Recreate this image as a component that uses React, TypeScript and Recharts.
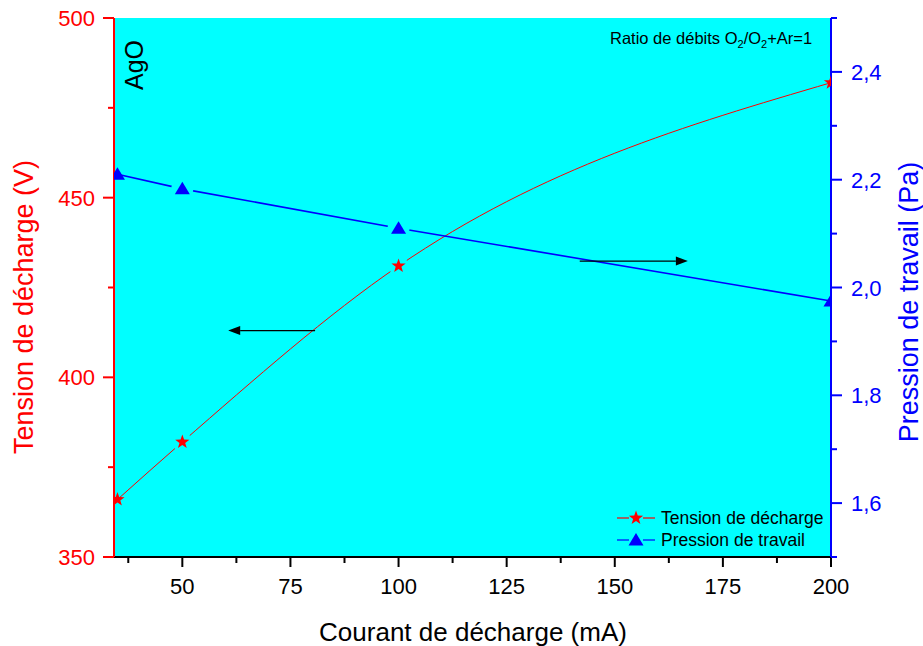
import React from 'react';
import { ComposedChart, Line, XAxis, YAxis, CartesianGrid, ReferenceLine } from 'recharts';

// mesures (courant en mA)
const courant = [35, 50, 100, 200];
const tension = [366, 382, 431, 482];
const pression = [2.21, 2.183, 2.11, 1.975];

const xTicks = [37.5, 50, 62.5, 75, 87.5, 100, 112.5, 125, 137.5, 150, 162.5, 175, 187.5, 200];
const xMajor = [50, 75, 100, 125, 150, 175, 200];
const leftTicks = [350, 375, 400, 425, 450, 475, 500];
const leftMajor = [350, 400, 450, 500];
const rightTicks = [1.5, 1.6, 1.7, 1.8, 1.9, 2.0, 2.1, 2.2, 2.3, 2.4, 2.5];
const rightMajor = [1.6, 1.8, 2.0, 2.2, 2.4];

// fleches : [x debut, x fin, y]
const arrowLeft = [80.7, 60.6, 413];
const arrowRight = [141.9, 166.9, 2.049];

const data = courant.map((c, i) => ({ courant: c, tension: tension[i], pression: pression[i] }));

const FONT = '"Liberation Sans", Arial, sans-serif';
const RED = '#FF0000';
const BLUE = '#0000FF';
const CYAN = '#00FFFF';
const TS = 10; // tickSize
const TM = 4; // tickMargin

const isMajor = (list: number[], v: number) => list.some(m => Math.abs(m - v) < 1e-6);
const fmtComma = (v: number) => v.toFixed(1).replace('.', ',');

const BottomTick = (props: any) => {
  const { x, y, payload } = props;
  const axisY = y - TS - TM;
  const major = isMajor(xMajor, payload.value);
  return (
    <g>
      <line x1={x} x2={x} y1={axisY} y2={axisY + (major ? 10 : 6)} stroke="#000" strokeWidth={2} />
      {major && (
        <text x={x} y={axisY + 37} textAnchor="middle" fontSize={22} fontFamily={FONT} fill="#000">
          {payload.value}
        </text>
      )}
    </g>
  );
};

const LeftTick = (props: any) => {
  const { x, y, payload } = props;
  const axisX = x + TS + TM;
  const major = isMajor(leftMajor, payload.value);
  return (
    <g>
      <line x1={axisX} x2={axisX - (major ? 11 : 6)} y1={y} y2={y} stroke={RED} strokeWidth={2} />
      {major && (
        <text x={axisX - 19} y={y + 8} textAnchor="end" fontSize={22} fontFamily={FONT} fill={RED}>
          {payload.value}
        </text>
      )}
    </g>
  );
};

const RightTick = (props: any) => {
  const { x, y, payload } = props;
  const axisX = x - TS - TM;
  const major = isMajor(rightMajor, payload.value);
  return (
    <g>
      <line x1={axisX} x2={axisX + (major ? 11 : 6)} y1={y} y2={y} stroke={BLUE} strokeWidth={2} />
      {major && (
        <text x={axisX + 20} y={y + 8} textAnchor="start" fontSize={22} fontFamily={FONT} fill={BLUE}>
          {fmtComma(payload.value)}
        </text>
      )}
    </g>
  );
};

const starPoints = (cx: number, cy: number, ro: number, ri: number) => {
  const pts: string[] = [];
  for (let i = 0; i < 10; i++) {
    const r = i % 2 === 0 ? ro : ri;
    const a = -Math.PI / 2 + (i * Math.PI) / 5;
    pts.push(`${cx + r * Math.cos(a)},${cy + r * Math.sin(a)}`);
  }
  return pts.join(' ');
};

const triPoints = (cx: number, cy: number) =>
  `${cx},${cy - 7} ${cx + 7.5},${cy + 5.5} ${cx - 7.5},${cy + 5.5}`;

const StarDot = (props: any) => {
  const { cx, cy, index } = props;
  const inner = index > 0 && index < courant.length - 1;
  return (
    <g key={`star-${index}`}>
      {inner && <circle cx={cx} cy={cy} r={10} fill={CYAN} />}
      <polygon points={starPoints(cx, cy, 7.5, 3)} fill={RED} />
    </g>
  );
};

const TriDot = (props: any) => {
  const { cx, cy, index } = props;
  const inner = index > 0 && index < courant.length - 1;
  return (
    <g key={`tri-${index}`}>
      {inner && <circle cx={cx} cy={cy} r={11} fill={CYAN} />}
      <polygon points={triPoints(cx, cy)} fill={BLUE} />
    </g>
  );
};

const Arrow = (props: any) => {
  const { x1, y1, x2, y2 } = props;
  const dir = Math.sign(x2 - x1);
  const bx = x2 - dir * 12;
  return (
    <g>
      <line x1={x1} y1={y1} x2={bx} y2={y2} stroke="#000" strokeWidth={1.3} />
      <polygon points={`${x2},${y2} ${bx},${y2 - 4.5} ${bx},${y2 + 4.5}`} fill="#000" />
    </g>
  );
};

const LegendRow = ({ color, label, tri }: { color: string; label: string; tri?: boolean }) => (
  <div style={{ display: 'flex', alignItems: 'center', height: 22 }}>
    <svg width={44} height={22}>
      <line x1={0} x2={12} y1={11} y2={11} stroke={color} strokeWidth={1.2} />
      <line x1={26} x2={38} y1={11} y2={11} stroke={color} strokeWidth={1.2} />
      {tri ? <polygon points={triPoints(19, 11)} fill={color} /> : <polygon points={starPoints(19, 11, 7.5, 3)} fill={color} />}
    </svg>
    <span style={{ fontFamily: FONT, fontSize: 17.5, color: '#000', whiteSpace: 'nowrap' }}>{label}</span>
  </div>
);

export default function App() {
  return (
    <div style={{ position: 'absolute', left: 0, top: 0, width: 923, height: 646, background: '#fff' }}>
      <ComposedChart width={923} height={646} data={data} margin={{ top: 18, right: 0, bottom: 0, left: 0 }}>
        <CartesianGrid horizontal={false} vertical={false} fill={CYAN} yAxisId="left" />
        <XAxis
          dataKey="courant"
          type="number"
          domain={[34.2, 200]}
          allowDataOverflow
          ticks={xTicks}
          interval={0}
          height={89}
          tickSize={TS}
          tickMargin={TM}
          tickLine={false}
          tick={<BottomTick />}
          axisLine={{ stroke: '#000', strokeWidth: 2 }}
        />
        <XAxis
          xAxisId="top"
          orientation="top"
          type="number"
          domain={[34.2, 200]}
          height={0}
          tick={false}
          tickLine={false}
          axisLine={{ stroke: '#000', strokeWidth: 2 }}
        />
        <YAxis
          yAxisId="left"
          orientation="left"
          type="number"
          domain={[350, 500]}
          ticks={leftTicks}
          interval={0}
          width={114}
          tickSize={TS}
          tickMargin={TM}
          tickLine={false}
          tick={<LeftTick />}
          axisLine={{ stroke: RED, strokeWidth: 2 }}
        />
        <YAxis
          yAxisId="right"
          orientation="right"
          type="number"
          domain={[1.5, 2.5]}
          ticks={rightTicks}
          interval={0}
          width={92}
          tickSize={TS}
          tickMargin={TM}
          tickLine={false}
          tick={<RightTick />}
          axisLine={{ stroke: BLUE, strokeWidth: 2 }}
        />
        <Line
          yAxisId="left"
          dataKey="tension"
          name="Tension de décharge"
          type="monotone"
          stroke={RED}
          strokeWidth={1}
          dot={StarDot}
          activeDot={false}
          isAnimationActive={false}
        />
        <Line
          yAxisId="right"
          dataKey="pression"
          name="Pression de travail"
          type="linear"
          stroke={BLUE}
          strokeWidth={1.6}
          dot={TriDot}
          activeDot={false}
          isAnimationActive={false}
        />
        <ReferenceLine
          yAxisId="left"
          segment={[{ x: arrowLeft[0], y: arrowLeft[2] }, { x: arrowLeft[1], y: arrowLeft[2] }]}
          shape={Arrow}
        />
        <ReferenceLine
          yAxisId="right"
          segment={[{ x: arrowRight[0], y: arrowRight[2] }, { x: arrowRight[1], y: arrowRight[2] }]}
          shape={Arrow}
        />
      </ComposedChart>
      <div style={{ position: 'absolute', left: 617, top: 507 }}>
        <LegendRow color={RED} label="Tension de décharge" />
        <LegendRow color={BLUE} label="Pression de travail" tri />
      </div>
      <svg width={923} height={646} style={{ position: 'absolute', left: 0, top: 0, pointerEvents: 'none' }} fontFamily={FONT}>
        <text x={143} y={90} fontSize={25} fill="#000" transform="rotate(-90 143 90)">AgO</text>
        <text x={610} y={43.5} fontSize={16.5} fill="#000">
          Ratio de débits O<tspan fontSize={11} dy={4}>2</tspan>
          <tspan dy={-4}>/O</tspan>
          <tspan fontSize={11} dy={4}>2</tspan>
          <tspan dy={-4}>+Ar=1</tspan>
        </text>
        <text x={473} y={641} fontSize={26} fill="#000" textAnchor="middle">Courant de décharge (mA)</text>
        <text x={33} y={307} fontSize={27} fill={RED} textAnchor="middle" transform="rotate(-90 33 307)">
          Tension de décharge (V)
        </text>
        <text x={918} y={302} fontSize={27} fill={BLUE} textAnchor="middle" transform="rotate(-90 918 302)">
          Pression de travail (Pa)
        </text>
      </svg>
    </div>
  );
}
